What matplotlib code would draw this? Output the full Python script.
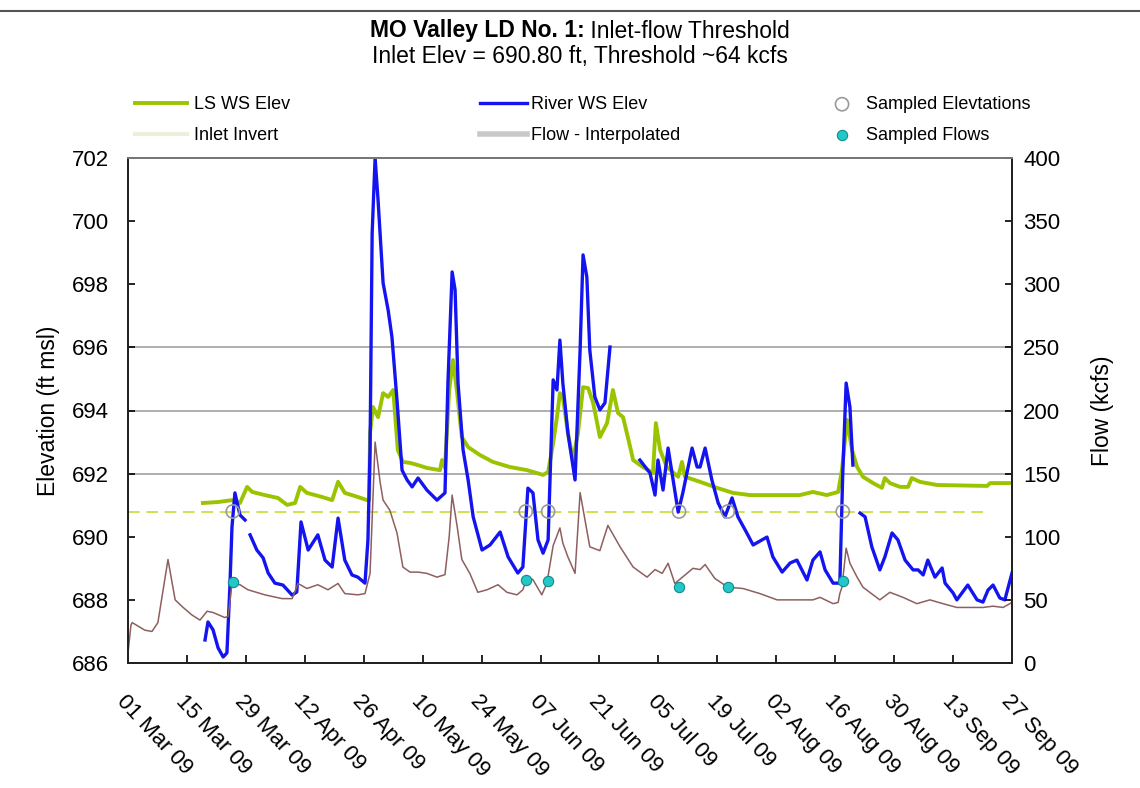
import numpy as np
import matplotlib
matplotlib.use("Agg")
import matplotlib.pyplot as plt
import matplotlib.dates as mdates
from matplotlib.lines import Line2D

plt.rcParams['font.family'] = ['Liberation Sans', 'DejaVu Sans']

# ---------------- data (days after 01 Mar 2009) ----------------
start_date = "2009-03-01"

flow_days = [0, 0.7, 1.0, 4.0, 5.7, 7.1, 9.5, 11.2, 13.1, 15.2, 17.1, 18.8, 20.2, 23.0, 23.8,
             24.7, 26.6, 28.5, 32.5, 36.6, 39.0, 40.4, 42.5, 45.1, 47.5, 49.9, 51.5, 54.6,
             56.3, 57.5, 58.7, 59.9, 60.6, 62.2, 63.9, 65.3, 67.0, 68.9, 71.0, 73.4, 75.3,
             76.3, 77.0, 78.2, 79.3, 81.2, 83.1, 85.3, 87.9, 90.0, 92.4, 93.8, 94.8, 96.2,
             98.3, 99.5, 101.0, 102.6, 103.3, 104.5, 106.2, 107.4, 109.7, 112.1, 114.0,
             116.9, 120.0, 123.3, 125.2, 126.9, 128.3, 129.9, 132.8, 134.2, 135.9, 137.1,
             139.4, 142.5, 146.1, 150.1, 154.2, 158.9, 162.7, 164.4, 167.5, 168.7, 169.1,
             169.6, 170.6, 171.5, 173.2, 174.6, 178.6, 181.0, 184.1, 187.4, 190.5, 193.6,
             196.9, 200.0, 203.1, 205.5, 207.9, 210.0]
flow_kcfs = [8, 30, 32, 26, 25, 32, 82, 50, 44, 38, 34, 41, 40, 36, 37,
             63, 62, 58, 54, 51, 51, 63, 59, 62, 58, 63, 55, 54,
             55, 71, 175, 143, 129, 121, 103, 76, 72, 72, 71, 68, 70,
             100, 133, 108, 82, 71, 56, 58, 62, 56, 54, 58, 68, 66,
             54, 63, 93, 107, 95, 84, 71, 135, 92, 89, 109,
             92, 76, 68, 74, 71, 79, 63, 71, 75, 74, 78,
             67, 60, 59, 55, 50, 50, 50, 52, 47, 48, 55,
             60, 91, 79, 68, 60, 50, 56, 52, 47, 50, 47,
             44, 44, 44, 45, 44, 48]

river_days = [18.3, 19.0, 20.2, 21.4, 22.6, 23.5, 24.2, 24.7, 25.4, 26.6, 27.8, 28.4, 29.0,
              30.6, 32.1, 33.3, 34.9, 36.8, 39.0, 40.1, 41.1, 42.8, 45.1, 46.8, 48.5, 49.9,
              51.5, 53.2, 54.6, 56.3, 57.0, 57.5, 58.0, 58.7, 59.4, 60.6, 61.8, 62.7, 63.9,
              65.1, 66.3, 67.5, 68.9, 71.0, 73.4, 75.3, 76.0, 77.0, 77.7, 78.4, 79.6, 80.8,
              82.0, 84.1, 86.0, 88.4, 90.3, 92.6, 93.8, 95.0, 96.2, 97.4, 98.6, 99.8, 101.0,
              101.9, 102.6, 103.3, 104.5, 106.2, 107.4, 108.1, 109.0, 109.7, 110.9, 112.1,
              113.3, 114.5, 118.0, 121.6, 124.0, 125.2, 125.9, 127.1, 128.3, 129.5, 130.7,
              131.8, 134.0, 135.2, 135.9, 137.1, 138.7, 140.2, 141.8, 143.5, 144.9, 147.0,
              148.5, 151.8, 153.2, 155.4, 157.3, 158.9, 161.3, 162.7, 164.4, 165.6, 167.5,
              169.1, 169.8, 170.6, 171.5, 172.2, 173.0, 173.9, 175.1, 176.7, 178.6, 179.8,
              181.5, 182.9, 184.6, 186.5, 187.7, 188.9, 190.0, 191.7, 193.4, 194.1, 196.0,
              196.9, 199.5, 201.7, 203.1, 204.3, 205.5, 207.1, 208.3, 210.0]
river_elev = [686.73, 687.30, 687.05, 686.48, 686.19, 686.32, 688.41, 690.31, 691.39, 690.69,
              690.53, np.nan, 690.06,
              689.58, 689.33, 688.85, 688.53, 688.47, 688.15, 688.25, 690.47, 689.58, 690.06,
              689.26, 689.04, 690.59,
              689.26, 688.79, 688.72, 688.53, 689.90, 692.75, 699.62, 702.0, 700.67, 698.04,
              697.18, 696.33, 694.33,
              692.11, 691.80, 691.58, 691.86, 691.48, 691.16, 691.39, 694.87, 698.39, 697.82,
              694.87, 692.75, 691.80,
              690.63, 689.58, 689.74, 690.15, 689.36, 688.85, 689.04, 691.54, 691.39, 689.90,
              689.48, 689.90, 694.97,
              694.65, 696.23, 694.87, 693.29, 691.80, 695.92, 698.93, 698.23, 695.92, 694.43,
              694.02,
              694.24, 696.01, np.nan, 692.43, 692.02, 691.32, 692.43, 691.48, 692.81, 691.80,
              690.78,
              691.39, 692.81, 692.21, 692.21, 692.81, 691.80, 691.07, 690.63, 691.23, 690.63,
              690.12,
              689.74, 689.99, 689.36, 688.88, 689.17, 689.26, 688.63, 689.26, 689.52, 688.95,
              688.53,
              688.53, 692.02, 694.87, 694.11, 692.27, np.nan, 690.75, 690.63, 689.68, 688.95,
              689.36,
              690.12, 689.90, 689.26, 688.95, 688.95, 688.79, 689.26, 688.72, 689.01, 688.53,
              688.22,
              688.00, 688.47, 688.00, 687.93, 688.31, 688.47, 688.06, 688.00, 688.85]

ls_days = [17.8, 21.4, 24.7, 26.6, 28.3, 29.5, 32.5, 35.6, 37.8, 39.7, 40.9, 42.5, 46.1,
           48.5, 49.9, 51.5, 54.6, 56.8, 57.3, 57.5, 58.2, 59.4, 60.6, 61.8, 63.0, 64.1,
           65.3, 67.0, 68.9, 71.0, 74.1, 74.6, 75.3, 76.3, 77.2, 78.2, 79.3, 80.8, 83.6,
           86.7, 90.7, 94.8, 98.6, 99.8, 101.0, 101.9, 102.6, 103.3, 104.5, 105.7, 106.9,
           108.1, 109.3, 110.5, 112.1, 113.8, 115.2, 116.4, 117.6, 119.3, 120.0, 122.3,
           124.7, 125.4, 126.4, 128.0, 130.7, 131.6, 132.3, 135.9, 139.9, 143.7, 147.8,
           159.6, 162.7, 166.0, 168.7, 169.6, 170.8, 172.0, 173.2, 174.6, 177.0, 179.1,
           179.8, 181.0, 183.4, 185.3, 186.2, 188.1, 192.2, 204.1, 204.8, 210.0]
ls_elev = [691.07, 691.10, 691.16, 691.07, 691.58, 691.42, 691.32, 691.23, 691.01, 691.07,
           691.58, 691.39, 691.26,
           691.16, 691.74, 691.39, 691.26, 691.16, 691.16, 693.29, 694.11, 693.79, 694.55,
           694.43, 694.65, 692.75,
           692.37, 692.34, 692.27, 692.18, 692.11, 692.43, 692.18, 694.65, 695.60, 694.55,
           693.16, 692.84, 692.59,
           692.37, 692.21, 692.11, 691.96, 692.05, 692.97, 693.79, 694.55, 694.43, 693.29,
           692.43, 693.29,
           694.74, 694.71, 694.24, 693.16, 693.60, 694.65, 693.92, 693.79, 692.84, 692.43,
           692.21,
           692.02, 693.60, 692.75, 692.21, 691.90, 692.37, 691.90, 691.74, 691.55, 691.39,
           691.32,
           691.32, 691.42, 691.32, 691.42, 692.11, 693.70, 692.75, 692.21, 691.90, 691.70,
           691.55,
           691.86, 691.70, 691.58, 691.58, 691.86, 691.74, 691.64, 691.61, 691.70, 691.70]

inlet_elev = 690.80
inlet_days = [0, 204.5]

sample_days = [24.9, 94.5, 99.8, 130.9, 142.5, 169.8]
sample_elev = [690.8, 690.8, 690.8, 690.8, 690.8, 690.8]
sample_flow = [64, 66, 65, 60, 60, 65]

tick_dates = ["2009-03-01", "2009-03-15", "2009-03-29", "2009-04-12", "2009-04-26",
              "2009-05-10", "2009-05-24", "2009-06-07", "2009-06-21", "2009-07-05",
              "2009-07-19", "2009-08-02", "2009-08-16", "2009-08-30", "2009-09-13",
              "2009-09-27"]
tick_labels = ["01 Mar 09", "15 Mar 09", "29 Mar 09", "12 Apr 09", "26 Apr 09",
               "10 May 09", "24 May 09", "07 Jun 09", "21 Jun 09", "05 Jul 09",
               "19 Jul 09", "02 Aug 09", "16 Aug 09", "30 Aug 09", "13 Sep 09",
               "27 Sep 09"]
grid_levels = [692, 694, 696]

# ---------------- figure ----------------
base = mdates.date2num(np.datetime64(start_date))


def tx(days):
    return base + np.asarray(days, dtype=float)


fig = plt.figure(figsize=(11.4, 7.88), dpi=100)
ax = fig.add_axes([128 / 1140, 1 - 663 / 788, 884 / 1140, 505 / 788])
ax2 = ax.twinx()

C_LS = "#9BC400"
C_RIV = "#1414F0"
C_FLOW = "#8E5F5F"

ax.hlines(grid_levels, tx(0), tx(210), colors="#a8a8a8", lw=1.3, zorder=0)

inv_line, = ax.plot(tx(inlet_days), [inlet_elev, inlet_elev], color="#C8DC30",
                    lw=1.2, ls=(0, (7, 4)), zorder=2)
ls_line, = ax.plot(tx(ls_days), ls_elev, color=C_LS, lw=2.8, zorder=3)
riv_line, = ax.plot(tx(river_days), river_elev, color=C_RIV, lw=2.4, zorder=4)
samp_el = ax.scatter(tx(sample_days), sample_elev, s=90, facecolors="none",
                     edgecolors="#9a9a9a", linewidths=1.2, zorder=5)

flow_line, = ax2.plot(tx(flow_days), flow_kcfs, color=C_FLOW, lw=1.1, zorder=2)
samp_fl = ax2.scatter(tx(sample_days), sample_flow, s=55, c="#22C8C8",
                      edgecolors="#138a8a", linewidths=0.8, zorder=6)

ax.set_xlim(tx(0), tx(210))
ax.set_ylim(686, 702)
ax.set_yticks(np.arange(686, 703, 2))
ax2.set_ylim(0, 400)
ax2.set_yticks(np.arange(0, 401, 50))

ax.set_xticks(mdates.date2num(np.array(tick_dates, dtype="datetime64[D]")))
ax.set_xticklabels(tick_labels, rotation=-47, ha="left", va="top",
                   rotation_mode="anchor", fontsize=16)

ax.tick_params(axis="x", direction="in", length=6, width=1.2, pad=20)
ax.tick_params(axis="y", direction="in", length=5, width=1.2, labelsize=16, pad=14)
ax2.tick_params(axis="y", direction="in", length=5, width=1.2, labelsize=16, pad=8)

for a in (ax, ax2):
    for s in ("left", "right", "bottom"):
        a.spines[s].set_color("#222222")
        a.spines[s].set_linewidth(1.4)
    a.spines["top"].set_color("#777777")
    a.spines["top"].set_linewidth(1.4)

ax.set_ylabel("Elevation (ft msl)", fontsize=16.5, labelpad=8)
ax2.set_ylabel("Flow (kcfs)", fontsize=16.5, labelpad=22)

# ---------------- title ----------------
renderer = fig.canvas.get_renderer()
t_bold = fig.text(0, 1 - 31 / 788, "MO Valley LD No. 1:", fontsize=16.5,
                  fontweight="bold", ha="left", va="center")
t_norm = fig.text(0, 1 - 31 / 788, " Inlet-flow Threshold", fontsize=16.5,
                  ha="left", va="center")
wb = t_bold.get_window_extent(renderer).width
wn = t_norm.get_window_extent(renderer).width
x0 = 580 - (wb + wn) / 2
t_bold.set_x(x0 / 1140)
t_norm.set_x((x0 + wb) / 1140)
fig.text(580 / 1140, 1 - 56 / 788, "Inlet Elev = 690.80 ft, Threshold ~64 kcfs",
         fontsize=16.5, ha="center", va="center")

fig.add_artist(Line2D([0, 1], [1 - 11 / 788, 1 - 11 / 788], transform=fig.transFigure,
                      color="#555555", lw=1.5))

# ---------------- legend ----------------
inv_proxy = Line2D([], [], color="#ecefdc", lw=3)
flow_proxy = Line2D([], [], color="#c8c8c8", lw=4)
legkw = dict(frameon=False, fontsize=13, borderpad=0, borderaxespad=0,
             labelspacing=0.78, loc="center left")
fig.legend([ls_line, inv_proxy], ["LS WS Elev", "Inlet Invert"],
           bbox_to_anchor=(135 / 1140, 1 - 120 / 788), handlelength=2.9,
           handletextpad=0.35, **legkw)
fig.legend([riv_line, flow_proxy], ["River WS Elev", "Flow - Interpolated"],
           bbox_to_anchor=(480 / 1140, 1 - 120 / 788), handlelength=2.6,
           handletextpad=0.25, **legkw)
fig.legend([samp_el, samp_fl], ["Sampled Elevtations", "Sampled Flows"],
           bbox_to_anchor=(833 / 1140, 1 - 120 / 788), handlelength=1.0,
           handletextpad=0.8, scatterpoints=1, **legkw)

fig.savefig("out.png", dpi=100)
